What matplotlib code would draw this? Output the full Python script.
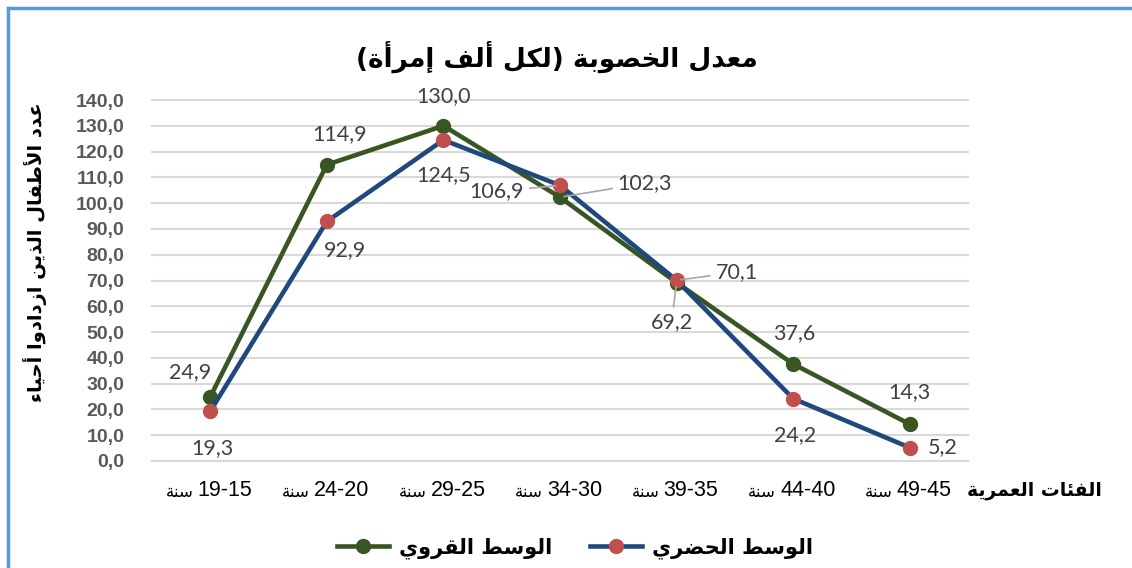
import matplotlib.pyplot as plt
from matplotlib.lines import Line2D

# ---- data ----
AGE_GROUPS = ["15-19", "20-24", "25-29", "30-34", "35-39", "40-44", "45-49"]
RURAL = [24.9, 114.9, 130.0, 102.3, 69.2, 37.6, 14.3]   # الوسط القروي
URBAN = [19.3, 92.9, 124.5, 106.9, 70.1, 24.2, 5.2]     # الوسط الحضري
Y_TICKS = [0, 10, 20, 30, 40, 50, 60, 70, 80, 90, 100, 110, 120, 130, 140]

TITLE = "معدل الخصوبة (لكل ألف إمرأة)"
Y_TITLE = "عدد الأطفال الذين ازدادوا أحياء"
X_TITLE = "الفئات العمرية"
YEAR_WORD = "سنة"
RURAL_NAME = "الوسط القروي"
URBAN_NAME = "الوسط الحضري"

GREEN = "#375623"
BLUE = "#1F497D"
RED = "#C0504D"
LABEL_GREY = "#404040"
LEADER = "#A6A6A6"

# ---- arabic shaping (no bidi lib available, use presentation forms) ----
TWO = {'\u0622': 0xFE81, '\u0623': 0xFE83, '\u0624': 0xFE85, '\u0625': 0xFE87,
       '\u0627': 0xFE8D, '\u0629': 0xFE93, '\u062F': 0xFEA9, '\u0630': 0xFEAB,
       '\u0631': 0xFEAD, '\u0632': 0xFEAF, '\u0648': 0xFEED, '\u0649': 0xFEEF}
FOUR = {'\u0626': 0xFE89, '\u0628': 0xFE8F, '\u062A': 0xFE95, '\u062B': 0xFE99,
        '\u062C': 0xFE9D, '\u062D': 0xFEA1, '\u062E': 0xFEA5, '\u0633': 0xFEB1,
        '\u0634': 0xFEB5, '\u0635': 0xFEB9, '\u0636': 0xFEBD, '\u0637': 0xFEC1,
        '\u0638': 0xFEC5, '\u0639': 0xFEC9, '\u063A': 0xFECD, '\u0641': 0xFED1,
        '\u0642': 0xFED5, '\u0643': 0xFED9, '\u0644': 0xFEDD, '\u0645': 0xFEE1,
        '\u0646': 0xFEE5, '\u0647': 0xFEE9, '\u064A': 0xFEF1}
LAMALEF = {'\u0622': 0xFEF5, '\u0623': 0xFEF7, '\u0625': 0xFEF9, '\u0627': 0xFEFB}


def rtl(txt):
    toks = []
    i = 0
    while i < len(txt):
        c = txt[i]
        if c == '\u0644' and i + 1 < len(txt) and txt[i + 1] in LAMALEF:
            toks.append(('right', LAMALEF[txt[i + 1]], None))
            i += 2
            continue
        if c in FOUR:
            toks.append(('dual', FOUR[c], None))
        elif c in TWO:
            toks.append(('right', TWO[c], None))
        elif c == '\u0621':
            toks.append(('none', 0xFE80, None))
        else:
            toks.append(('other', None, c))
        i += 1
    out = []
    for j, (kind, base, ch) in enumerate(toks):
        if kind == 'other':
            out.append({'(': ')', ')': '('}.get(ch, ch))
            continue
        prev = toks[j - 1][0] if j > 0 else None
        nxt = toks[j + 1][0] if j + 1 < len(toks) else None
        jp = kind in ('dual', 'right') and prev == 'dual'
        jn = kind == 'dual' and nxt in ('dual', 'right')
        if kind == 'dual':
            off = {(False, False): 0, (True, False): 1, (False, True): 2, (True, True): 3}[(jp, jn)]
        elif kind == 'right':
            off = 1 if jp else 0
        else:
            off = 0
        out.append(chr(base + off))
    return ''.join(reversed(out))


def fmt(v):
    return f"{v:.1f}".replace('.', ',')


# ---- figure ----
W, H = 1132, 568
fig = plt.figure(figsize=(W / 100, H / 100), dpi=100)
ax = fig.add_axes([152 / W, 107 / H, 816 / W, 361 / H])

x = list(range(len(AGE_GROUPS)))
ax.plot(x, RURAL, color=GREEN, lw=3.3, marker='o', ms=10, mfc=GREEN, mec=GREEN,
        zorder=3, label=rtl(RURAL_NAME))
ax.plot(x, URBAN, color=BLUE, lw=3.3, marker='o', ms=10, mfc=RED, mec=RED,
        zorder=4, label=rtl(URBAN_NAME))

ax.set_xlim(-0.5, len(AGE_GROUPS) - 0.5)
ax.set_ylim(0, 140)
ax.set_yticks(Y_TICKS)
ax.set_yticklabels([fmt(v) for v in Y_TICKS])
ax.set_xticks(x)
ax.set_xticklabels([])
ax.grid(axis='y', color='#D9D9D9', lw=1.5)
ax.set_axisbelow(True)
for gl in ax.get_ygridlines():
    gl.set_clip_on(False)
for s in ax.spines.values():
    s.set_visible(False)
ax.tick_params(axis='y', length=0, pad=20, labelsize=14, labelcolor='#595959')
ax.tick_params(axis='x', length=0)
for t in ax.get_yticklabels():
    t.set_fontfamily(['Liberation Sans Narrow', 'Liberation Sans'])
    t.set_fontweight('bold')

# category labels: number (large) + word (small) side by side
for i, g in enumerate(AGE_GROUPS):
    lo, hi = g.split('-')
    ax.annotate(hi + "-" + lo, (i, 0), xytext=(-13, -29), textcoords='offset pixels',
                ha='left', va='center', fontsize=15.5, color='black',
                family='Liberation Sans', annotation_clip=False)
    ax.annotate(rtl(YEAR_WORD), (i, 0), xytext=(-17, -31), textcoords='offset pixels',
                ha='right', va='center', fontsize=12, color='black',
                family='DejaVu Sans', annotation_clip=False)

# data labels: offsets in pixels (label centre minus point)
rural_off = [(-20, 25), (13, 31), (0, 30), (85, 14), (-5, -40), (1, 31), (0, 32)]
urban_off = [(2, -37), (18, -29), (0, -35), (-63, -6), (60, 8), (2, -36), (33, 0)]
rural_lead = [False, False, False, True, True, False, False]
urban_lead = [False, False, False, True, True, False, False]

for vals, offs, leads in ((RURAL, rural_off, rural_lead), (URBAN, urban_off, urban_lead)):
    for i, v in enumerate(vals):
        dx, dy = offs[i]
        kw = {}
        if leads[i]:
            kw['arrowprops'] = dict(arrowstyle='-', color=LEADER, lw=1.2,
                                    shrinkA=2, shrinkB=3)
        ax.annotate(fmt(v), (i, v), xytext=(dx, dy), textcoords='offset pixels',
                    ha='center', va='center', fontsize=15.5, color=LABEL_GREY,
                    family=['Lato', 'DejaVu Sans'], zorder=6, **kw)

# titles
fig.text(557 / W, 1 - 57 / H, rtl(TITLE), ha='center', va='center',
         fontsize=19, fontweight='bold', family='DejaVu Sans')
fig.text(35 / W, 1 - 252 / H, rtl(Y_TITLE), ha='center', va='center', rotation=90,
         fontsize=14, fontweight='bold', family='DejaVu Sans')
fig.text(1102 / W, 1 - 490 / H, rtl(X_TITLE), ha='right', va='center',
         fontsize=13.5, fontweight='bold', family='DejaVu Sans')

fig.legend(loc='center', bbox_to_anchor=(575 / W, 1 - 548 / H), ncol=2,
           frameon=False, handlelength=2.5, columnspacing=1.8, handletextpad=0.5,
           prop={'family': 'DejaVu Sans', 'weight': 'bold', 'size': 15})

# outer frame (top and left edges visible)
fig.add_artist(Line2D([8 / W, 1], [1 - 8 / H, 1 - 8 / H], color='#5B9BD5', lw=2.5,
                      transform=fig.transFigure))
fig.add_artist(Line2D([8 / W, 8 / W], [0, 1 - 8 / H], color='#5B9BD5', lw=2.5,
                      transform=fig.transFigure))

fig.savefig('out.png', dpi=100)
